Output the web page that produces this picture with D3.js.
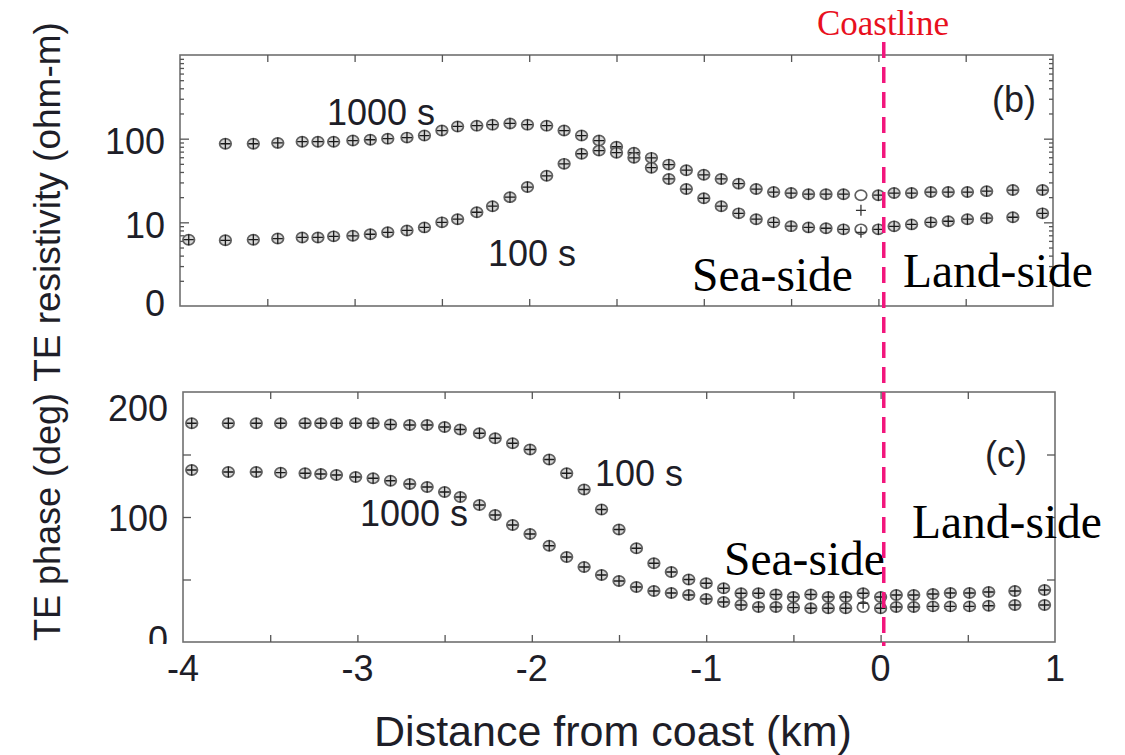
<!DOCTYPE html>
<html><head><meta charset="utf-8">
<script src="https://cdn.jsdelivr.net/npm/d3@7/dist/d3.min.js"></script>
<style>
html,body{margin:0;padding:0;background:#fff;}
svg{display:block;}
</style></head>
<body><svg id="chart" width="1125" height="755"></svg>
<script>
// ---------------- data ----------------
const stations = [-3.95,-3.74,-3.58,-3.44,-3.30,-3.21,-3.12,-3.01,-2.91,-2.81,-2.70,-2.60,-2.50,-2.41,-2.30,-2.21,-2.11,-2.01,-1.90,-1.80,-1.70,-1.60,-1.50,-1.40,-1.30,-1.20,-1.10,-1.00,-0.90,-0.80,-0.70,-0.60,-0.50,-0.40,-0.30,-0.20,-0.10,0.00,0.09,0.19,0.30,0.40,0.51,0.62,0.77,0.94];
// TE apparent resistivity (ohm-m)
const rho1000 = [null,87,87,89,92,92,92,95,97,100,103,109,125,140,143,147,152,147,143,125,109,95,80,68,59,49,42,37,33,29,25,23,22.4,21.7,21.7,21.7,21.1,21.1,22.4,22.4,23,23,23,23.6,24.3,24.3];
const rho100  = [6.2,6.1,6.2,6.4,6.6,6.6,6.8,6.9,7.2,7.6,8.0,8.7,10.0,10.9,13.2,15.6,20,26.4,36,50,66,72,68,59,45,33,25,19.4,15.6,12.8,10.9,10.0,9.0,8.7,8.5,8.24,8.24,8.24,8.95,9.45,10,10.3,10.9,11.2,11.5,12.8];
// TE phase (deg)
const phase100  = [175,175,175,175,175,175,175,175,175,174,173.6,173.6,172,170,167,163,159,154,146,135,122,106,90,75,63,56,50,47,43,39,39,38,36,38,36,36,39,36,37.6,37.6,38.4,39.2,39.2,40,40.8,41.6];
const phase1000 = [137.6,136,136,135.5,135,134.4,133.6,132,131,129,126.4,124,120,116,109.6,101.6,93.6,86.4,77,68,60,53.6,48.8,44,40.8,39.2,37.6,34.4,32,29.6,28,28,27.5,27,27,27,28,27,28,28,28.5,28.5,28.5,29,29.6,29.6];
// points where the "+" (model) is apart from the circle (observed)
const offPlusPanel  = ["rho","rho","phase"];
const offPlusPeriod = [1000,100,1000];
const offPlusX      = [-0.10,-0.10,-0.10];
const offPlusValue  = [13.9,7.6,31];
// ticks
const xTickValues = [-4,-3.5,-3,-2.5,-2,-1.5,-1,-0.5,0,0.5,1];
const xTickLabels = ["-4","-3","-2","-1","0","1"];
const rhoMajorTicks = [1,10,100,1000];
const rhoTickLabels = ["0","10","100",""];
const phaseTicks = [0,50,100,150,200];
const phaseTickLabels = ["0","","100","","200"];
const coastX = 0.025;

// ---------------- layout ----------------
const svg = d3.select("#chart");
const sans = "'Liberation Sans', Arial, Helvetica, sans-serif";
const serif = "'Liberation Serif', 'Times New Roman', serif";
const frameColor = "#707070";

const xTop = d3.scaleLinear().domain([-4,1]).range([180,1053]);
const yRho = d3.scaleLog().domain([1,1000]).range([306,55]);
const xBot = d3.scaleLinear().domain([-4,1]).range([183,1055]);
const yPh  = d3.scaleLinear().domain([0,200]).range([642,392]);

function styleAxis(g){
  g.select(".domain").remove();
  g.selectAll(".tick line").attr("stroke","#555").attr("stroke-width",1.3);
  g.selectAll(".tick text").attr("font-family",sans).attr("font-size",36).attr("fill","#1e1e28");
}

function frame(x,y){
  svg.append("rect")
    .attr("x",x.range()[0]).attr("y",y.range()[1])
    .attr("width",x.range()[1]-x.range()[0]).attr("height",y.range()[0]-y.range()[1])
    .attr("fill","none").attr("stroke",frameColor).attr("stroke-width",1.6);
}

// ---- top panel: resistivity ----
frame(xTop,yRho);
const xTickInner = xTickValues.slice(1,-1);
svg.append("g").attr("transform",`translate(0,${yRho.range()[0]})`)
  .call(d3.axisBottom(xTop).tickValues(xTickInner).tickSize(-7).tickFormat("")).call(styleAxis);
svg.append("g").attr("transform",`translate(0,${yRho.range()[1]})`)
  .call(d3.axisTop(xTop).tickValues(xTickInner).tickSize(-7).tickFormat("")).call(styleAxis);
const rhoMinor = yRho.ticks().filter(v=>rhoMajorTicks.indexOf(v)<0);
svg.append("g").attr("transform",`translate(${xTop.range()[0]},0)`)
  .call(d3.axisLeft(yRho).tickValues(rhoMajorTicks.slice(1,3)).tickSize(-9).tickFormat(""))
  .call(styleAxis);
svg.append("g").attr("transform",`translate(${xTop.range()[0]},0)`)
  .call(d3.axisLeft(yRho).tickValues(rhoMinor).tickSize(-4).tickFormat("")).call(styleAxis);
svg.append("g").attr("transform",`translate(${xTop.range()[1]},0)`)
  .call(d3.axisRight(yRho).tickValues(rhoMajorTicks.slice(1,3)).tickSize(-9).tickFormat("")).call(styleAxis);
svg.append("g").attr("transform",`translate(${xTop.range()[1]},0)`)
  .call(d3.axisRight(yRho).tickValues(rhoMinor).tickSize(-4).tickFormat("")).call(styleAxis);
// labels of resistivity axis
svg.append("g").selectAll("text").data(rhoMajorTicks.slice(0,3)).join("text")
  .attr("x",165).attr("y",(d,i)=>Math.min(yRho(d)+3, 303))
  .attr("dy","0.35em").attr("text-anchor","end")
  .attr("font-family",sans).attr("font-size",36).attr("fill","#1e1e28")
  .text((d,i)=>rhoTickLabels[i]);

// ---- bottom panel: phase ----
frame(xBot,yPh);
svg.append("g").attr("transform",`translate(0,${yPh.range()[0]})`)
  .call(d3.axisBottom(xBot).tickValues(xTickInner).tickSize(-7).tickFormat("")).call(styleAxis);
svg.append("g").attr("transform",`translate(0,${yPh.range()[1]})`)
  .call(d3.axisTop(xBot).tickValues(xTickInner).tickSize(-7).tickFormat("")).call(styleAxis);
svg.append("g").attr("transform",`translate(${xBot.range()[0]},0)`)
  .call(d3.axisLeft(yPh).tickValues(phaseTicks.slice(1,-1)).tickSize(-8).tickFormat("")).call(styleAxis);
svg.append("g").attr("transform",`translate(${xBot.range()[1]},0)`)
  .call(d3.axisRight(yPh).tickValues(phaseTicks.slice(1,-1)).tickSize(-8).tickFormat("")).call(styleAxis);
svg.append("clipPath").attr("id","phClip").append("rect").attr("x",0).attr("y",0).attr("width",183).attr("height",644);
svg.append("g").attr("clip-path","url(#phClip)").selectAll("text")
  .data(phaseTicks.filter((d,i)=>phaseTickLabels[i]!=="")).join("text")
  .attr("x",168).attr("y",d=> d===200 ? yPh(d)+16 : (d===0 ? yPh(d)-3 : yPh(d)+1))
  .attr("dy","0.35em").attr("text-anchor","end")
  .attr("font-family",sans).attr("font-size",36).attr("fill","#1e1e28")
  .text(d=>phaseTickLabels[phaseTicks.indexOf(d)]);
// x tick labels
svg.append("g").selectAll("text").data(xTickLabels).join("text")
  .attr("x",d=>xBot(+d)).attr("y",681).attr("text-anchor","middle")
  .attr("font-family",sans).attr("font-size",36).attr("fill","#1e1e28")
  .text(d=>d);

// ---------------- markers ----------------
function drawSeries(g, x, y, values, panel, period){
  const pts = stations.map((s,i)=>({x:s, v:values[i]})).filter(d=>d.v!=null);
  const isOff = d => offPlusX.some((ox,k)=>offPlusPanel[k]===panel && offPlusPeriod[k]===period && Math.abs(ox-d.x)<1e-6);
  const grp = g.append("g");
  grp.selectAll("ellipse").data(pts).join("ellipse")
    .attr("cx",d=>x(d.x)).attr("cy",d=>y(d.v)).attr("rx",5.8).attr("ry",5.1)
    .attr("fill",d=>isOff(d)?"#fff":"#d6d6d6").attr("stroke","#606060").attr("stroke-width",1.7);
  grp.selectAll("path").data(pts.filter(d=>!isOff(d))).join("path")
    .attr("d",d=>{const cx=x(d.x), cy=y(d.v); return `M${cx-5},${cy}H${cx+5}M${cx},${cy-5.5}V${cy+5.5}`;})
    .attr("stroke","#1a1a1a").attr("stroke-width",1.3).attr("fill","none");
  // detached pluses
  const off = offPlusX.map((ox,k)=>({x:ox,v:offPlusValue[k],p:offPlusPanel[k],t:offPlusPeriod[k]}))
    .filter(d=>d.p===panel && d.t===period);
  grp.selectAll("path.off").data(off).join("path").attr("class","off")
    .attr("d",d=>{const cx=x(d.x), cy=y(d.v); return `M${cx-5},${cy}H${cx+5}M${cx},${cy-5.5}V${cy+5.5}`;})
    .attr("stroke","#333").attr("stroke-width",1.3).attr("fill","none");
}
const mk = svg.append("g");
drawSeries(mk, xTop, yRho, rho1000, "rho", 1000);
drawSeries(mk, xTop, yRho, rho100, "rho", 100);
drawSeries(mk, xBot, yPh, phase100, "phase", 100);
drawSeries(mk, xBot, yPh, phase1000, "phase", 1000);

// ---------------- annotations ----------------
function txt(x,y,s,opt){
  svg.append("text").attr("x",x).attr("y",y)
    .attr("font-family",opt.font||sans).attr("font-size",opt.size||36)
    .attr("fill",opt.fill||"#1e1e28").attr("text-anchor",opt.anchor||"start").text(s);
}
txt(327,125,"1000 s",{});
txt(488,266,"100 s",{});
txt(992,112,"(b)",{size:36});
txt(985,467,"(c)",{size:36});
txt(595,486,"100 s",{});
txt(360,526,"1000 s",{});
txt(692,291,"Sea-side",{font:serif,size:47.5,fill:"#000"});
txt(903,287,"Land-side",{font:serif,size:47.5,fill:"#000"});
txt(724,575,"Sea-side",{font:serif,size:47.5,fill:"#000"});
txt(912,538,"Land-side",{font:serif,size:47.5,fill:"#000"});
txt(883,35,"Coastline",{font:serif,size:35,fill:"#e8101e",anchor:"middle"});

// coastline
svg.append("line").attr("x1",xTop(coastX)+1).attr("x2",xTop(coastX)+1).attr("y1",42).attr("y2",646)
  .attr("stroke","#f2167c").attr("stroke-width",3.5).attr("stroke-dasharray","16,9");

// axis titles
svg.append("text").attr("transform","translate(60,202) rotate(-90)").attr("text-anchor","middle")
  .attr("font-family",sans).attr("font-size",37).attr("fill","#1e1e28").text("TE resistivity (ohm-m)");
svg.append("text").attr("transform","translate(60,517) rotate(-90)").attr("text-anchor","middle")
  .attr("font-family",sans).attr("font-size",36).attr("fill","#1e1e28").text("TE phase (deg)");
svg.append("text").attr("x",613).attr("y",746).attr("text-anchor","middle")
  .attr("font-family",sans).attr("font-size",43).attr("fill","#1e1e28").text("Distance from coast (km)");
</script></body></html>
